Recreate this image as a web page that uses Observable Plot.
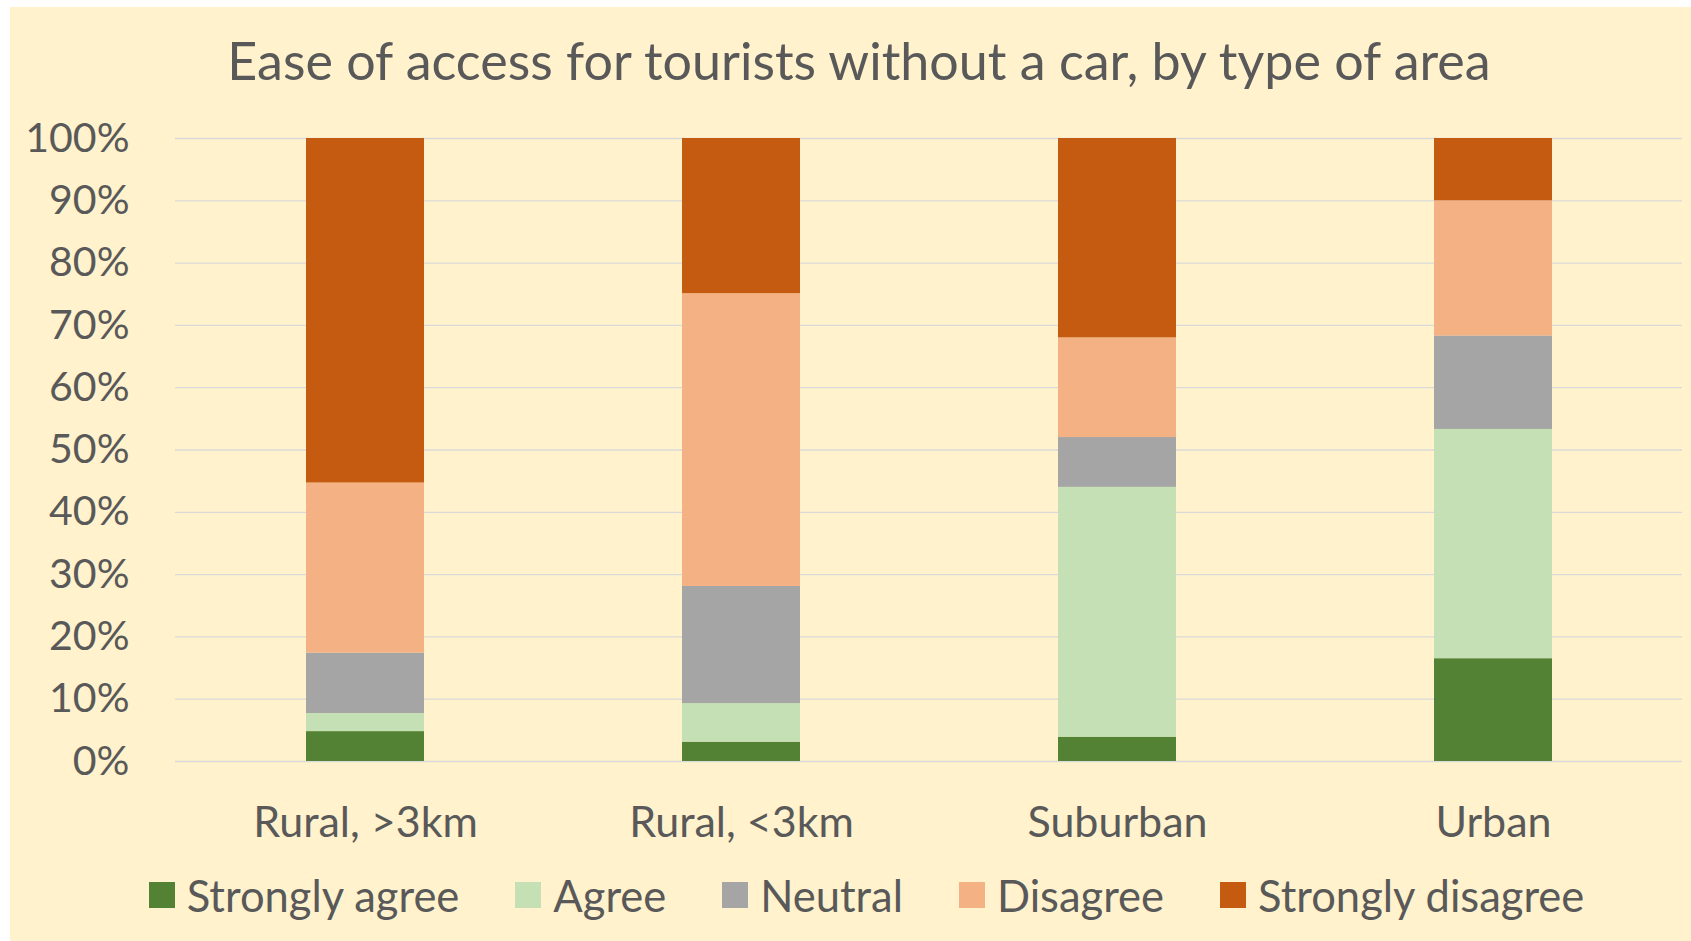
<!DOCTYPE html>
<html>
<head>
<meta charset="utf-8">
<script src="https://cdn.jsdelivr.net/npm/d3@7"></script>
<script src="https://cdn.jsdelivr.net/npm/@observablehq/plot@0.6"></script>
<style>
html, body { margin: 0; padding: 0; background: #ffffff; }
#chart { position: relative; width: 1691px; height: 941px; overflow: hidden; }
#bg { position: absolute; left: 10px; top: 7px; width: 1681px; height: 934px; background: #FFF2CC; }
#title { position: absolute; left: 10px; width: 1681px; top: 34px; padding-left: 17px; box-sizing: border-box;
  text-align: center; font-family: Lato, sans-serif; font-size: 52px; line-height: 52px; color: #595959; white-space: nowrap; }
#plot { position: absolute; left: 0; top: 100px; }
#legend { position: absolute; left: 10px; top: 869px; width: 1681px; }
.lg-swatches { font-family: Lato, sans-serif; font-size: 43.5px; color: #595959; justify-content: center;
  margin: 0 !important; padding-left: 32px; box-sizing: border-box; width: 1681px; }
.lg-swatch { margin-right: 56px; }
.lg-swatch:last-child { margin-right: 0; }
.lg-swatch > svg { margin-right: 12px; }
</style>
</head>
<body>
<div id="chart">
  <div id="bg"></div>
  <div id="title">Ease of access for tourists without a car, by type of area</div>
  <div id="plot"></div>
  <div id="legend"></div>
</div>
<script>
const areas = ["Rural, >3km", "Rural, <3km", "Suburban", "Urban"];
const responses = ["Strongly agree", "Agree", "Neutral", "Disagree", "Strongly disagree"];
const colors = ["#548235", "#C5E0B4", "#A5A5A5", "#F4B183", "#C55A11"];
const stronglyAgree = [4.8, 3.1, 3.9, 16.5];
const agree = [2.9, 6.2, 40.1, 36.8];
const neutral = [9.7, 18.8, 8.0, 15.0];
const disagree = [27.3, 47.0, 16.0, 21.7];
const stronglyDisagree = [55.3, 24.9, 32.0, 10.0];
const yTicks = [0, 10, 20, 30, 40, 50, 60, 70, 80, 90, 100];

const series = [stronglyAgree, agree, neutral, disagree, stronglyDisagree];
const rows = [];
areas.forEach((area, i) => {
  responses.forEach((response, j) => {
    rows.push({area, response, value: series[j][i]});
  });
});

const plot = Plot.plot({
  width: 1691,
  height: 760,
  marginLeft: 175,
  marginRight: 9,
  marginTop: 38,
  marginBottom: 99,
  style: {background: "transparent", fontFamily: "Lato, sans-serif", color: "#595959", overflow: "visible"},
  x: {domain: areas, paddingInner: 0.687, paddingOuter: 0.3435, axis: null},
  y: {domain: [0, 100], axis: null},
  color: {domain: responses, range: colors},
  marks: [
    Plot.gridY(yTicks, {stroke: "#D9D9D9", strokeOpacity: 1, strokeWidth: 1.3}),
    Plot.barY(rows, {x: "area", y: "value", fill: "response", order: responses, inset: 0}),
    Plot.axisY(yTicks, {tickSize: 0, tickPadding: 46, fontSize: 41, tickFormat: d => d + "%", fill: "#595959", label: null}),
    Plot.axisX({tickSize: 0, tickPadding: 45, fontSize: 43, fill: "#595959", label: null})
  ]
});
document.getElementById("plot").appendChild(plot);

const legend = plot.legend("color", {swatchSize: 26, className: "lg"});
document.getElementById("legend").appendChild(legend);
</script>
</body>
</html>
